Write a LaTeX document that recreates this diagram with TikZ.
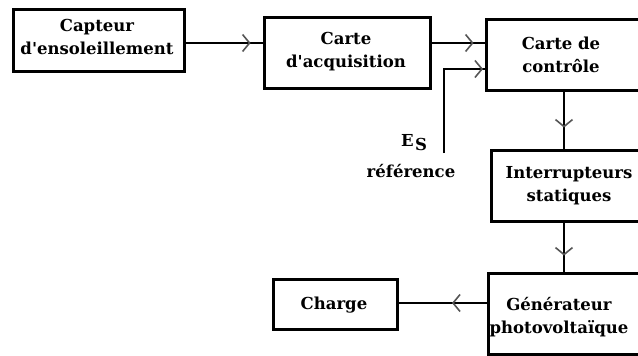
\documentclass[tikz,border=0pt]{standalone}
\usepackage{fontspec}
\setmainfont{DejaVu Serif}
\usetikzlibrary{arrows.meta,decorations.markings}
\definecolor{tipgray}{HTML}{555555}
\tikzset{
  blk/.style={draw, line width=2.6pt, rectangle, inner sep=0pt, anchor=north west},
  lbl/.style={font=\bfseries\fontsize{16.5}{23}\selectfont, align=center, inner sep=0pt},
  wire/.style={line width=2.2pt},
  tipat/.style={postaction={decorate}, decoration={markings,
     mark=at position #1 with {\arrow[tipgray, line width=1.6pt]{Straight Barb[length=7pt, width=17pt]}}}},
}
\begin{document}
\begin{tikzpicture}[x=1pt, y=-1pt]
\useasboundingbox (0,0) rectangle (638,356);
\clip (0,0) rectangle (638,356);
% boxes
\node[blk, minimum width=171pt, minimum height=62pt] (b1) at (12,8) {};
\node[blk, minimum width=166pt, minimum height=71pt] (b2) at (263,16) {};
\node[blk, minimum width=180pt, minimum height=71pt] (b3) at (485,18) {};
\node[blk, minimum width=180pt, minimum height=71pt] (b4) at (490,149) {};
\node[blk, minimum width=180pt, minimum height=81pt] (b5) at (487,272) {};
\node[blk, minimum width=124pt, minimum height=50pt] (b6) at (272,278) {};
% labels
\node[lbl] (t1) at (97,37) {Capteur\\d\textquotesingle ensoleillement};
\node[lbl] (t2) at (346,52) {Carte\\d\textquotesingle acquisition};
\node[lbl] (t3) at (561,55) {Carte de\\contrôle};
\node[lbl] (t4) at (569,186) {Interrupteurs\\statiques};
\node[lbl] (t5) at (559,317) {Générateur\\photovoltaïque};
\node[lbl] (t6) at (334,305) {Charge};
\node[lbl] (es) at (414,143) {E\hspace{1.5pt}\raisebox{-4pt}{S}};
\node[lbl] (ref) at (411,171) {référence};
% connectors
\coordinate (esin) at (444,153);
\draw[wire, tipat=65pt] (b1.east |- 0,43) -- (b2.west |- 0,43);
\draw[wire, tipat=42pt] (b2.east |- 0,43) -- (b3.west |- 0,43);
\draw[wire, tipat=123pt] (esin) -- (444,69) -- (b3.west |- 0,69);
\draw[wire, tipat=36pt] (b3.south -| 564,0) -- (b4.north -| 564,0);
\draw[wire, tipat=33pt] (b4.south -| 564,0) -- (b5.north -| 564,0);
\draw[wire, tipat=35pt] (b5.west |- 0,303) -- (b6.east |- 0,303);
\end{tikzpicture}
\end{document}
